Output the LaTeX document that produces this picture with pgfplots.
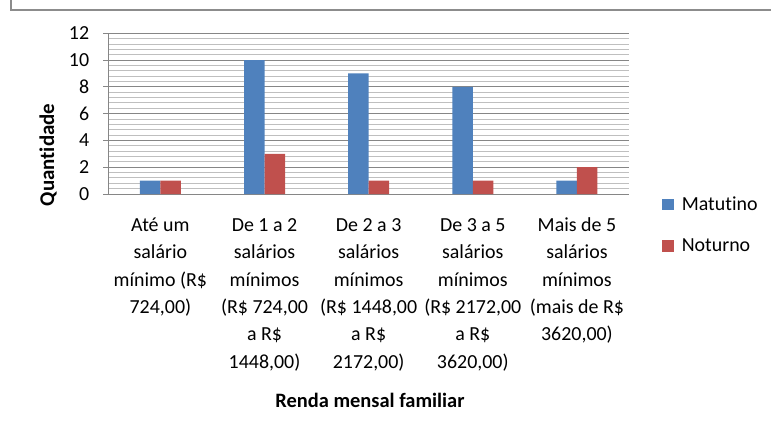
\documentclass[border=0pt]{standalone}
\usepackage{fontspec}
\setmainfont{Carlito}[Ligatures=NoCommon]
\usepackage{pgfplots}
\pgfplotsset{compat=1.18}
\definecolor{barblue}{HTML}{4F81BD}
\definecolor{barred}{HTML}{C0504D}
\definecolor{axgray}{HTML}{868686}
\definecolor{mingray}{HTML}{BFBFBF}
\definecolor{framegray}{HTML}{8C8C8C}
\begin{document}
\begin{tikzpicture}[x=1bp,y=1bp]
\useasboundingbox (0bp,0bp) rectangle (771bp,432bp);
\draw[framegray, line width=1.3bp] (11bp,432bp) -- (11bp,422bp) -- (771bp,422bp);
\begin{axis}[
  at={(108.3bp,238bp)}, anchor=south west,
  scale only axis, width=520.7bp, height=160.7bp,
  xmin=-0.5, xmax=4.5, ymin=0, ymax=12,
  axis lines=left, axis line style={-, axgray, line width=0.9bp},
  ybar=0pt, bar width=20.5bp,
  xtick={0,1,2,3,4},
  xticklabels={
    {\strut Até um\\salário\\mínimo (R\$\\724,00)},
    {\strut De 1 a 2\\salários\\mínimos\\(R\$ 724,00\\a R\$\\1448,00)},
    {\strut De 2 a 3\\salários\\mínimos\\(R\$ 1448,00\\a R\$\\2172,00)},
    {\strut De 3 a 5\\salários\\mínimos\\(R\$ 2172,00\\a R\$\\3620,00)},
    {\strut Mais de 5\\salários\\mínimos\\(mais de R\$\\3620,00)}},
  x tick style={draw=none},
  xticklabel style={align=center, anchor=north, inner sep=0pt, yshift=-13bp,
    font=\fontsize{20}{27.5}\selectfont},
  ytick={0,2,...,12},
  minor y tick num=4,
  y tick style={axgray, line width=0.9bp},
  tick align=outside, major tick length=5bp, minor tick length=0pt,
  ymajorgrids, yminorgrids,
  major grid style={axgray, line width=0.9bp},
  minor grid style={mingray, line width=0.9bp},
  yticklabel style={font=\fontsize{20}{24}\selectfont, inner sep=0pt, xshift=-14bp},
  /pgf/number format/assume math mode=true,
  legend style={at={(axis description cs:1.063,-0.005)}, anchor=north west,
    draw=none, fill=none, inner sep=0pt, row sep=23bp,
    font=\fontsize{20}{24}\selectfont,
    nodes={inner sep=2pt},
    /tikz/every odd column/.append style={column sep=6bp}},
  legend cell align=left,
  clip=false,
]
\addplot[fill=barblue, draw=none,
  legend image code/.code={\fill[barblue] (0bp,-5.9bp) rectangle (11.8bp,5.9bp);}]
  coordinates {(0,1) (1,10) (2,9) (3,8) (4,1)};
\addplot[fill=barred, draw=none,
  legend image code/.code={\fill[barred] (0bp,-5.9bp) rectangle (11.8bp,5.9bp);}]
  coordinates {(0,1) (1,3) (2,1) (3,1) (4,2)};
\legend{Matutino,Noturno}
\end{axis}
\node[rotate=90, font=\fontsize{21}{25}\selectfont\bfseries] at (48bp,277bp) {Quantidade};
\node[font=\fontsize{20.5}{24}\selectfont\bfseries] at (370bp,32bp) {Renda mensal familiar};
\end{tikzpicture}
\end{document}
